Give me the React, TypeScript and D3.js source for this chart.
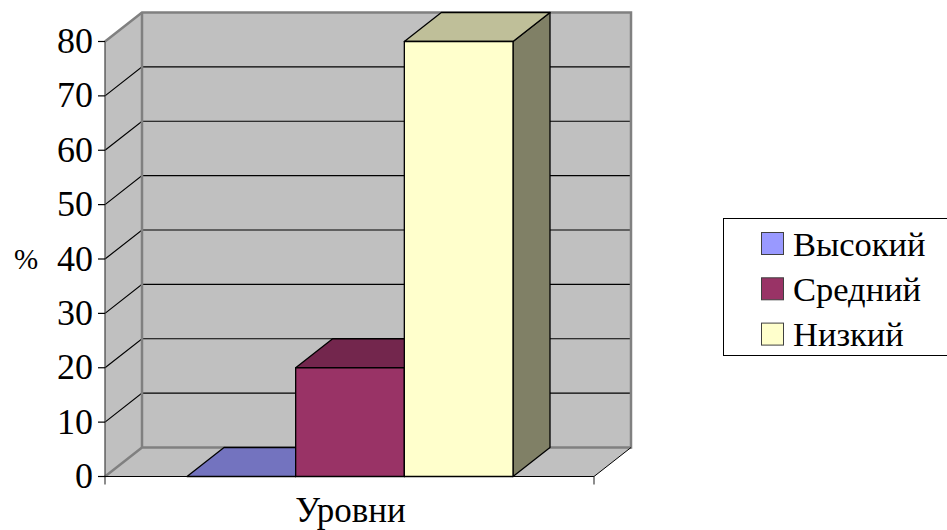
import React from "react";
import * as d3 from "d3";

const seriesNames = ["Высокий", "Средний", "Низкий"];
const seriesValues = [0, 20, 80];
const frontColors = ["#9999ff", "#993366", "#ffffcc"];
const topColors = ["#7373bf", "#73264d", "#bfbf99"];
const sideColors = ["#5c5c99", "#5c1f3d", "#808066"];
const yTicks = [0, 10, 20, 30, 40, 50, 60, 70, 80];
const yTitle = "%";
const xTitle = "Уровни";

const W = 947, H = 530;
const DX = 37, DY = -29;
const plotL = 105, plotR = 594;
const serif = "'Liberation Serif', serif";

export default function App() {
  const y = d3.scaleLinear().domain([0, 80]).range([476.5, 41.5]);
  const x = d3.scaleBand<string>().domain(seriesNames).range([187, 513]);
  const y0 = y(0);
  const poly = (p: [number, number][]) => p.map((q) => q.join(",")).join(" ");
  return (
    <svg width={W} height={H} viewBox={`0 0 ${W} ${H}`} style={{ position: "absolute", left: 0, top: 0, background: "#fff" }}>
      {/* walls */}
      <polygon points={poly([[plotL + DX, y(80) + DY], [plotR + DX, y(80) + DY], [plotR + DX, y0 + DY], [plotL + DX, y0 + DY]])} fill="#c0c0c0" />
      <polygon points={poly([[plotL, y(80)], [plotL + DX, y(80) + DY], [plotL + DX, y0 + DY], [plotL, y0]])} fill="#c0c0c0" />
      <polygon points={poly([[plotL, y0], [plotL + DX, y0 + DY], [plotR + DX, y0 + DY], [plotR, y0]])} fill="#c0c0c0" />
      {/* gridlines */}
      {yTicks.filter((t) => t > 0 && t < 80).map((t) => (
        <polyline key={t} points={poly([[plotL, y(t)], [plotL + DX, y(t) + DY], [plotR + DX, y(t) + DY]])} fill="none" stroke="#000" strokeWidth={1.2} />
      ))}
      {/* wall edges */}
      <polyline points={poly([[plotL, y(80)], [plotL + DX, y(80) + DY], [plotR + DX, y(80) + DY], [plotR + DX, y0 + DY], [plotL + DX, y0 + DY], [plotL, y0]])} fill="none" stroke="#808080" strokeWidth={2.5} />
      <line x1={plotL + DX} x2={plotL + DX} y1={y(80) + DY} y2={y0 + DY} stroke="#808080" strokeWidth={2.5} />
      <line x1={plotR} x2={plotR + DX} y1={y0} y2={y0 + DY} stroke="#000" strokeWidth={1} />
      {/* bars */}
      {seriesNames.map((s, i) => {
        const l = x(s)!, r = l + x.bandwidth(), t = y(seriesValues[i]);
        return (
          <g key={s} stroke="#000" strokeWidth={1.3} strokeLinejoin="round">
            <polygon points={poly([[r, t], [r + DX, t + DY], [r + DX, y0 + DY], [r, y0]])} fill={sideColors[i]} />
            <polygon points={poly([[l, t], [l + DX, t + DY], [r + DX, t + DY], [r, t]])} fill={topColors[i]} />
            <rect x={l} y={t} width={x.bandwidth()} height={y0 - t} fill={frontColors[i]} />
          </g>
        );
      })}
      {/* axes */}
      <line x1={plotL} x2={plotL} y1={y(80)} y2={y0 + 8} stroke="#404040" strokeWidth={1.2} />
      <line x1={plotL - 1} x2={plotR} y1={y0} y2={y0} stroke="#000" strokeWidth={1.2} />
      <line x1={plotR} x2={plotR} y1={y0} y2={y0 + 8} stroke="#404040" strokeWidth={1.2} />
      {yTicks.map((t) => (
        <g key={t}>
          <line x1={plotL - 7} x2={plotL} y1={y(t)} y2={y(t)} stroke="#000" strokeWidth={1.2} />
          <text x={93} y={y(t) + 11.5} textAnchor="end" fontFamily={serif} fontSize={36}>{t}</text>
        </g>
      ))}
      <text x={26} y={269} textAnchor="middle" fontFamily={serif} fontSize={29}>{yTitle}</text>
      <text x={350.5} y={522} textAnchor="middle" fontFamily={serif} fontSize={35}>{xTitle}</text>
      {/* legend */}
      <rect x={723.5} y={218.5} width={226} height={137} fill="#fff" stroke="#000" strokeWidth={1} />
      {seriesNames.map((s, i) => (
        <g key={s}>
          <rect x={761.5} y={232.5 + i * 45.3} width={22} height={22} fill={frontColors[i]} stroke="#404040" strokeWidth={1} />
          <text x={793} y={255.5 + i * 45.3} fontFamily={serif} fontSize={34.5}>{s}</text>
        </g>
      ))}
    </svg>
  );
}
